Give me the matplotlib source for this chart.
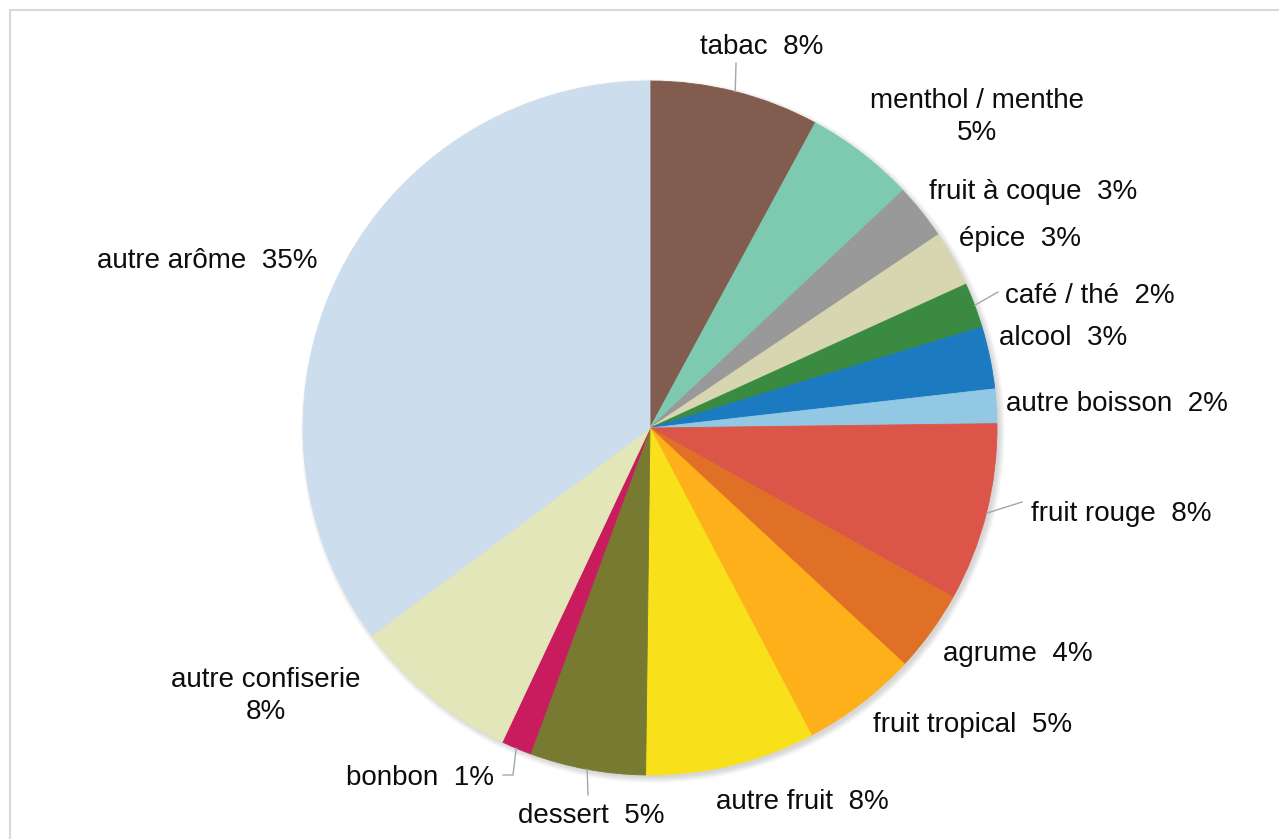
import matplotlib.pyplot as plt
import numpy as np
from matplotlib.patches import Circle

plt.rcParams['font.family'] = ['Liberation Sans', 'DejaVu Sans']

# flavour shares (%), clockwise from 12 o'clock
names = ["tabac", "menthol / menthe", "fruit à coque", "épice", "café / thé",
         "alcool", "autre boisson", "fruit rouge", "agrume", "fruit tropical",
         "autre fruit", "dessert", "bonbon", "autre confiserie", "autre arôme"]
shares = [7.9, 5.1, 2.6, 2.6, 2.1, 2.9, 1.6, 8.3, 3.8, 5.4, 7.9, 5.4, 1.4, 7.8, 35.2]
colors = ["#835C50", "#7DCAB0", "#999999", "#D8D6B0", "#3A8A42", "#1C7AC0",
          "#92C8E4", "#DC5549", "#E07026", "#FDB019", "#F8E01A", "#777A30",
          "#C81C5E", "#E2E6B8", "#CCDEED"]

W, H = 1279, 839
cx, cy, r = 650, 428, 347

# label centres (px, y from top)
label_pos = [(762, 47), (977, 117), (1033, 192), (1020, 239), (1090, 296),
             (1063, 338), (1117, 404), (1121, 514), (1018, 654), (973, 725),
             (802, 802), (591, 816), (420, 778), (266, 696), (207, 261)]
two_line = {"menthol / menthe", "autre confiserie"}
# leader line tails (px) for labels sitting away from their slice
leaders = {
    "tabac": [(736, 63)],
    "café / thé": [(998, 292)],
    "fruit rouge": [(1022, 502)],
    "dessert": [(588, 795)],
    "bonbon": [(513, 775), (503, 775)],
}

fig = plt.figure(figsize=(W / 100, H / 100), dpi=100)
ax = fig.add_axes([0, 0, 1, 1])

# chart area border
ax.plot([10, 10, W], [0, H - 10, H - 10], color="#D9D9D9", lw=1.5,
        solid_capstyle='butt')

# soft shadow under the pie
for k in range(8):
    ax.add_patch(Circle((cx + 3, H - cy - 3), r + 5 - k * 0.8,
                        color="black", alpha=0.018, lw=0))

wedges, _ = ax.pie(shares, colors=colors, startangle=90, counterclock=False,
                   center=(cx, H - cy), radius=r, frame=True,
                   wedgeprops=dict(linewidth=0.6))
for w, c in zip(wedges, colors):
    w.set_edgecolor(c)
ax.set_xlim(0, W)
ax.set_ylim(0, H)
ax.set_aspect('equal')
ax.axis('off')

total = sum(shares)
for name, v, w, (lx, ly) in zip(names, shares, wedges, label_pos):
    pct = v / total * 100
    sep = "\n" if name in two_line else "  "
    ax.text(lx, H - ly, f"{name}{sep}{pct:.0f}%", ha='center', va='center',
            fontsize=20, color="#0D0D0D", linespacing=1.32)
    if name in leaders:
        mid = np.deg2rad((w.theta1 + w.theta2) / 2)
        pts = [(cx + r * np.cos(mid), H - cy + r * np.sin(mid))]
        pts += [(px, H - py) for px, py in leaders[name]]
        xs, ys = zip(*pts)
        ax.plot(xs, ys, color="#A6A6A6", lw=1)

fig.savefig("out.png", dpi=100, facecolor="white")
